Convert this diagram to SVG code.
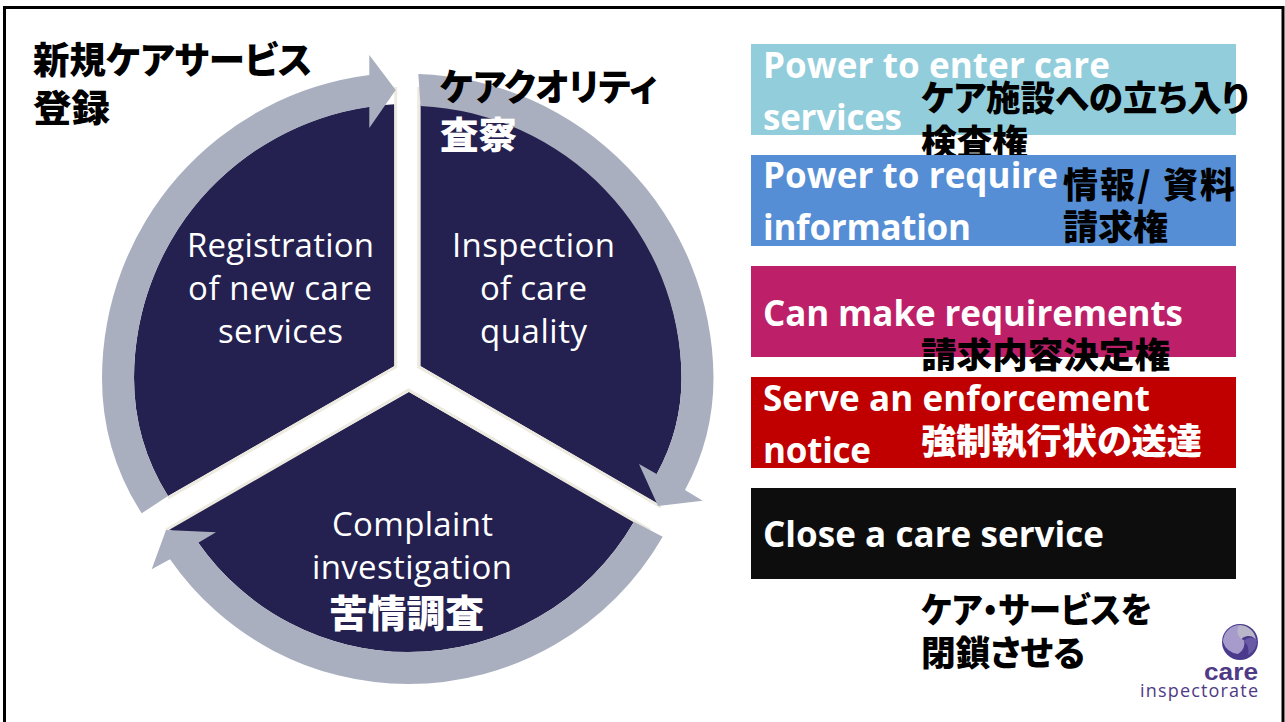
<svg xmlns="http://www.w3.org/2000/svg" width="1285" height="722" viewBox="0 0 1285 722">
<style>
text{font-family:"Noto Sans CJK JP","Noto Sans CJK SC",sans-serif}
.sec{fill:#24204F}
.edge{fill:none;stroke:#EDEAE0;stroke-width:3}
.ring{fill:#A9AFBF}
.lab{font-family:"Open Sans","Noto Sans CJK JP",sans-serif;fill:#fff;font-size:33px;text-anchor:start}
.en{font-family:"Open Sans","Noto Sans CJK JP",sans-serif;fill:#fff;font-size:35px;font-weight:700}
.ja{font-weight:900;font-size:35px;fill:#000;font-feature-settings:"palt"}
.big{font-size:37px}
.wh{fill:#fff}
</style>
<rect width="1285" height="722" fill="#fff"/>
<path d="M4.500 722V7.500H1283V722" fill="none" stroke="#000" stroke-width="3"/>
<g id="cycle">
<g id="segment-registration">
<path class="sec" d="M394.500 366V104.300A274 274 0 0 0 134 378A222 222 0 0 0 168 496Z"/>
<path class="edge" d="M395.700 87V367L168 498"/>
<text class="lab" x="187" y="257" textLength="187">Registration</text>
<text class="lab" x="188" y="300" textLength="184">of new care</text>
<text class="lab" x="218" y="343" textLength="125">services</text>
</g>
<g id="segment-inspection">
<path class="sec" d="M420.500 366V104.400A274 274 0 0 1 681.500 378A198 198 0 0 1 656.700 474L658 504Z"/>
<path class="edge" d="M418.700 87V367L661 507"/>
<text class="lab" x="452" y="257" textLength="163">Inspection</text>
<text class="lab" x="480" y="300" textLength="107">of care</text>
<text class="lab" x="480" y="343" textLength="107">quality</text>
</g>
<g id="segment-complaint">
<path class="sec" d="M409 392L168 529L198.300 542.700A256 256 0 0 0 408 652A261 261 0 0 0 634 521.700Z"/>
<path class="edge" d="M166 530L408.500 390L650 530"/>
<text class="lab" x="332" y="536" textLength="161">Complaint</text>
<text class="lab" x="312" y="579" textLength="200">investigation</text>
</g>
<g id="ring-arrows">
<path class="ring" d="M141.700 513.300A250 250 0 0 1 102 378A306 306 0 0 1 369.300 75V55L395.700 90L369.300 128V107A274 274 0 0 0 134 378A222 222 0 0 0 168 496Z"/>
<path class="ring" d="M418.300 74A306 306 0 0 1 713.500 378A234 234 0 0 1 685 490L702.700 500.700L658 506L639 464L656.700 474A198 198 0 0 0 681.500 378A274 274 0 0 0 420.500 106Z"/>
<path class="ring" d="M662.700 536.700A294 294 0 0 1 408 684A290 290 0 0 1 170 559.300L151.700 569.300L166 530L216 532.300L198.300 542.700A256 256 0 0 0 408 652A261 261 0 0 0 634 521.700Z"/>
</g>
</g>
<g id="title-registration"><text class="ja big" x="33" y="74" textLength="279" lengthAdjust="spacingAndGlyphs">新規ケアサービス</text><text class="ja big" x="33" y="122" textLength="77" lengthAdjust="spacingAndGlyphs">登録</text></g>
<g id="title-inspection"><text class="ja big" x="440" y="101" textLength="217" lengthAdjust="spacingAndGlyphs">ケアクオリティ</text><text class="ja big wh" x="440" y="149" textLength="77" lengthAdjust="spacingAndGlyphs">査察</text></g>
<g id="title-complaint"><text class="ja wh" x="329" y="627" style="font-size:38px" textLength="155" lengthAdjust="spacingAndGlyphs">苦情調査</text></g>
<g id="power-enter"><rect x="751" y="44" width="485" height="91" fill="#92CDDC"/><text class="en" x="763" y="78" textLength="347">Power to enter care</text><text class="en" x="763" y="130" textLength="139">services</text><text class="ja" x="921" y="111" textLength="328" lengthAdjust="spacingAndGlyphs">ケア施設への立ち入り</text><text class="ja" x="921" y="155" textLength="107" lengthAdjust="spacingAndGlyphs">検査権</text></g>
<g id="power-info"><rect x="751" y="155" width="485" height="91" fill="#558ED5"/><text class="en" x="763" y="188" textLength="295">Power to require</text><text class="en" x="763" y="240" textLength="208">information</text><text class="ja" x="1063" y="198" textLength="172" lengthAdjust="spacing">情報/ 資料</text><text class="ja" x="1063" y="240" textLength="105" lengthAdjust="spacingAndGlyphs">請求権</text></g>
<g id="requirements"><rect x="751" y="266" width="485" height="91" fill="#BD2069"/><text class="en" x="763" y="326" textLength="420">Can make requirements</text><text class="ja" x="921" y="368" textLength="249" lengthAdjust="spacingAndGlyphs">請求内容決定権</text></g>
<g id="enforcement"><rect x="751" y="377" width="485" height="91" fill="#C00000"/><text class="en" x="763" y="411" textLength="387">Serve an enforcement</text><text class="en" x="763" y="463" textLength="108">notice</text><text class="ja wh" x="921" y="454" textLength="281" lengthAdjust="spacingAndGlyphs">強制執行状の送達</text></g>
<g id="close"><rect x="751" y="488" width="485" height="91" fill="#0D0D0D"/><text class="en" x="763" y="547" textLength="341">Close a care service</text><text class="ja" x="921" y="623" textLength="231" lengthAdjust="spacingAndGlyphs">ケア・サービスを</text><text class="ja" x="921" y="666" textLength="164" lengthAdjust="spacingAndGlyphs">閉鎖させる</text></g>
<g id="logo">
<circle cx="1240" cy="642" r="18" fill="#4B3A8C"/>
<path d="M1240 625A17 17 0 0 1 1256 640A9 9 0 0 0 1240 642A9 9 0 0 1 1240 625Z" fill="#B9B6C9"/>
<path d="M1240 625A17 17 0 0 0 1223 642A17 17 0 0 0 1238 654A12 12 0 0 0 1244 640A9 9 0 0 1 1240 625Z" fill="#A79BCB"/>
<path d="M1257 640A17 17 0 0 1 1248 655A14 14 0 0 0 1244 641A9 9 0 0 1 1257 640Z" fill="#6A5AA5"/>
<text x="1204" y="680" textLength="54" lengthAdjust="spacingAndGlyphs" style="font-family:'Liberation Sans',sans-serif;font-size:24px;font-weight:700;fill:#4F3A85">care</text>
<text x="1140" y="697" textLength="118" style="font-family:'Open Sans',sans-serif;font-size:18px;fill:#4F3A85">inspectorate</text>
</g>
</svg>
